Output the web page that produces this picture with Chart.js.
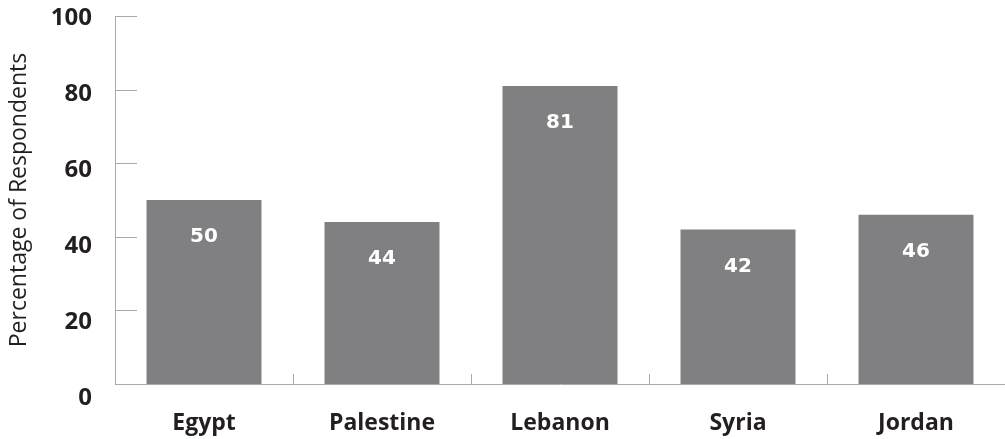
<!DOCTYPE html>
<html>
<head>
<meta charset="utf-8">
<script src="https://cdn.jsdelivr.net/npm/chart.js@4.4.1/dist/chart.umd.min.js"></script>
<style>
  html,body{margin:0;padding:0;background:#fff;}
  #wrap{width:1005px;height:439px;}
</style>
</head>
<body>
<div id="wrap"><canvas id="chart" width="1005" height="439"></canvas></div>
<script>
const countries = ['Egypt','Palestine','Lebanon','Syria','Jordan'];
const percents  = [50, 44, 81, 42, 46];
const yTickValues = [0, 20, 40, 60, 80, 100];
const yTitle = 'Percentage of Respondents';

const barColor = '#808082';
const axisColor = '#a9a9ab';
const textColor = '#231f20';

// inner tick marks (y ticks point right, category separators point up)
const innerTicks = {
  id:'innerTicks',
  afterDatasetsDraw(chart){
    const ctx = chart.ctx, y = chart.scales.y, x = chart.scales.x;
    ctx.save();
    ctx.strokeStyle = axisColor; ctx.lineWidth = 1;
    ctx.beginPath();
    yTickValues.forEach(v=>{
      const py = Math.round(y.getPixelForValue(v)) + 0.5;
      ctx.moveTo(chart.chartArea.left, py); ctx.lineTo(chart.chartArea.left + 22, py);
    });
    for(let i=1;i<countries.length;i++){
      const px = Math.round((x.getPixelForTick(i-1) + x.getPixelForTick(i))/2) + 0.5;
      ctx.moveTo(px, chart.chartArea.bottom); ctx.lineTo(px, chart.chartArea.bottom - 10);
    }
    ctx.stroke();
    ctx.restore();
  }
};

// value labels inside the bars
const barValues = {
  id:'barValues',
  afterDatasetsDraw(chart){
    const ctx = chart.ctx;
    const meta = chart.getDatasetMeta(0);
    ctx.save();
    ctx.fillStyle = '#fff';
    ctx.font = 'bold 20px "DejaVu Sans"';
    ctx.textAlign = 'center'; ctx.textBaseline = 'middle';
    meta.data.forEach((bar,i)=>{
      ctx.fillText(String(percents[i]), bar.x, bar.y + 37);
    });
    ctx.restore();
  }
};

function noPad(scale){ scale.paddingTop=0; scale.paddingBottom=0; scale.paddingLeft=0; scale.paddingRight=0; }

new Chart(document.getElementById('chart').getContext('2d'), {
  type:'bar',
  data:{ labels:countries, datasets:[{ data:percents, backgroundColor:barColor, borderWidth:0,
         barPercentage:0.646, categoryPercentage:1 }]},
  options:{
    responsive:false, animation:false,
    layout:{ padding:{ top:16, right:0, bottom:0, left:0 } },
    plugins:{ legend:{display:false}, tooltip:{enabled:false} },
    scales:{
      x:{
        grid:{ display:false, drawTicks:false },
        border:{ display:true, color:axisColor, width:1 },
        ticks:{ color:textColor, font:{ family:'"Open Sans"', weight:'bold', size:23 }, padding:26 },
        afterFit(s){ s.height = 55; noPad(s); }
      },
      y:{
        min:0, max:100, weight:0, position:'left',
        ticks:{ display:false, stepSize:20 },
        grid:{ display:false, drawTicks:false },
        border:{ display:true, color:axisColor, width:1 },
        afterFit(s){ s.width = 0; noPad(s); }
      },
      // tick labels sit on a slightly stretched scale, as in the original
      yl:{
        type:'linear', position:'left', weight:1,
        min:3.68, max:100.53, bounds:'data',
        grid:{ display:false, drawTicks:false },
        border:{ display:false },
        afterBuildTicks(s){ s.ticks = yTickValues.map(v=>({value:v})); },
        ticks:{ color:textColor, font:{ family:'"Open Sans"', weight:'bold', size:24 }, padding:23,
                callback:(v)=>String(v) },
        title:{ display:true, text:yTitle, color:textColor, font:{ family:'"Open Sans"', size:23 }, padding:{top:6,bottom:0} },
        afterFit(s){ s.width = 115; noPad(s); }
      }
    }
  },
  plugins:[innerTicks, barValues]
});
</script>
</body>
</html>
